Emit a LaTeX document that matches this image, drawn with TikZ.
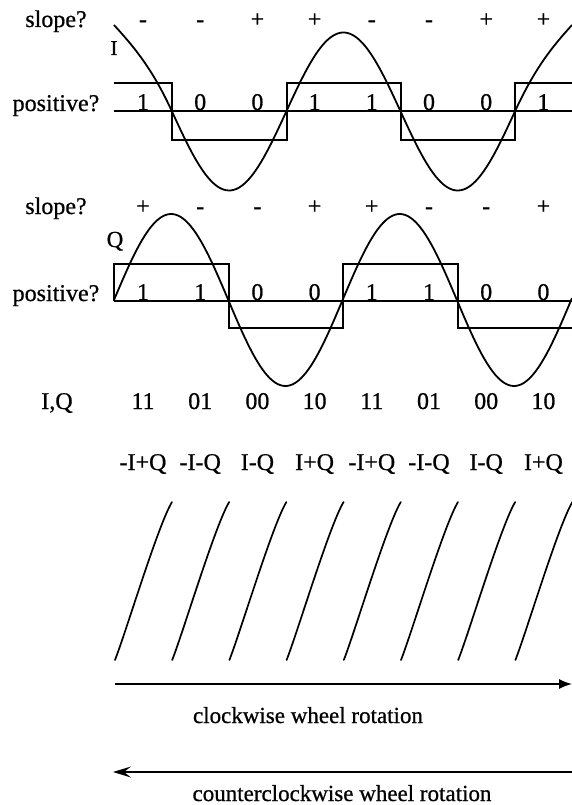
\documentclass[tikz,border=0pt]{standalone}
\usepackage{fontspec}
\setmainfont{Liberation Serif}[FakeBold=0.7]
\usetikzlibrary{arrows.meta}
\begin{document}
\begin{tikzpicture}[x=1pt,y=-1pt,
  lbl/.style={font=\fontsize{24}{28}\selectfont, anchor=base, inner sep=0pt},
  wave/.style={line width=1.8pt, line join=round},
  sqw/.style={line width=1.6pt, line join=miter},
  slant/.style={line width=1.7pt, line cap=round},
  arr/.style={line width=1.5pt}]
\useasboundingbox (0,0) rectangle (572,805);

% ---------- I channel ----------
\node[lbl] (slI) at (56,27) {slope?};
\node[lbl] (posI) at (56,111) {positive?};
\node[lbl, font=\fontsize{21}{24}\selectfont] (labI) at (114,55) {I};
\foreach \s [count=\i from 0] in {-,-,+,+,-,-,+,+}
  \node[lbl] (sI\i) at ({143+57.2*\i},27) {\s};
\foreach \s [count=\i from 0] in {1,0,0,1,1,0,0,1}
  \node[lbl] (pI\i) at ({143+57.2*\i},110) {\s};
\draw[sqw] (114,111) -- (572,111);
\draw[sqw] (114,83) -- (172,83) -- (172,140) -- (287,140) -- (287,83) -- (401,83)
  -- (401,140) -- (515,140) -- (515,83) -- (572,83);
\draw[wave] (114,25) .. controls (134,47) and (152,68) .. (172,111.5)
  -- plot[domain=172:515,samples=140] (\x,{111.5+79*sin(((\x-172)/228.6)*360)})
  .. controls (535,68) and (552,47) .. (572,25);

% ---------- Q channel ----------
\node[lbl] (slQ) at (56,214) {slope?};
\node[lbl] (posQ) at (56,301) {positive?};
\node[lbl, font=\fontsize{23}{26}\selectfont] (labQ) at (115,247) {Q};
\foreach \s [count=\i from 0] in {+,-,-,+,+,-,-,+}
  \node[lbl] (sQ\i) at ({143+57.2*\i},214) {\s};
\foreach \s [count=\i from 0] in {1,1,0,0,1,1,0,0}
  \node[lbl] (pQ\i) at ({143+57.2*\i},300) {\s};
\draw[sqw] (114,301) -- (572,301);
\draw[sqw] (114,301) -- (114,264) -- (229,264) -- (229,328) -- (343,328) -- (343,264)
  -- (458,264) -- (458,328) -- (572,328);
\draw[wave] plot[domain=114:572,samples=180] (\x,{300-86*sin(((\x-114)/228.6)*360)});

% ---------- codes ----------
\node[lbl] (iq) at (57,409) {I,Q};
\foreach \s [count=\i from 0] in {11,01,00,10,11,01,00,10}
  \node[lbl] (c\i) at ({143+57.2*\i},409) {\s};
\foreach \s [count=\i from 0] in {-I+Q,-I-Q,I-Q,I+Q,-I+Q,-I-Q,I-Q,I+Q}
  \node[lbl] (e\i) at ({143+57.2*\i},470) {\s};

% ---------- slanted marks ----------
\foreach \i in {0,...,7}
  \draw[slant] ({115+57.2*\i},660) .. controls ({126+57.2*\i},632) and ({158+57.2*\i},525) .. ({172+57.2*\i},502);

% ---------- arrows ----------
\coordinate (a1s) at (115,684);
\coordinate (a1e) at (572,684);
\draw[arr,-{Latex[length=13pt,width=10pt]}] (a1s) -- (a1e);
\node[lbl, font=\fontsize{23}{26}\selectfont] (cw) at (308,723) {clockwise wheel rotation};

\coordinate (a2s) at (572,772);
\coordinate (a2e) at (113,772);
\draw[arr,-{Stealth[length=18pt,width=11pt,inset=7pt]}] (a2s) -- (a2e);
\node[lbl, font=\fontsize{23}{26}\selectfont] (ccw) at (342,801) {counterclockwise wheel rotation};
\end{tikzpicture}
\end{document}
